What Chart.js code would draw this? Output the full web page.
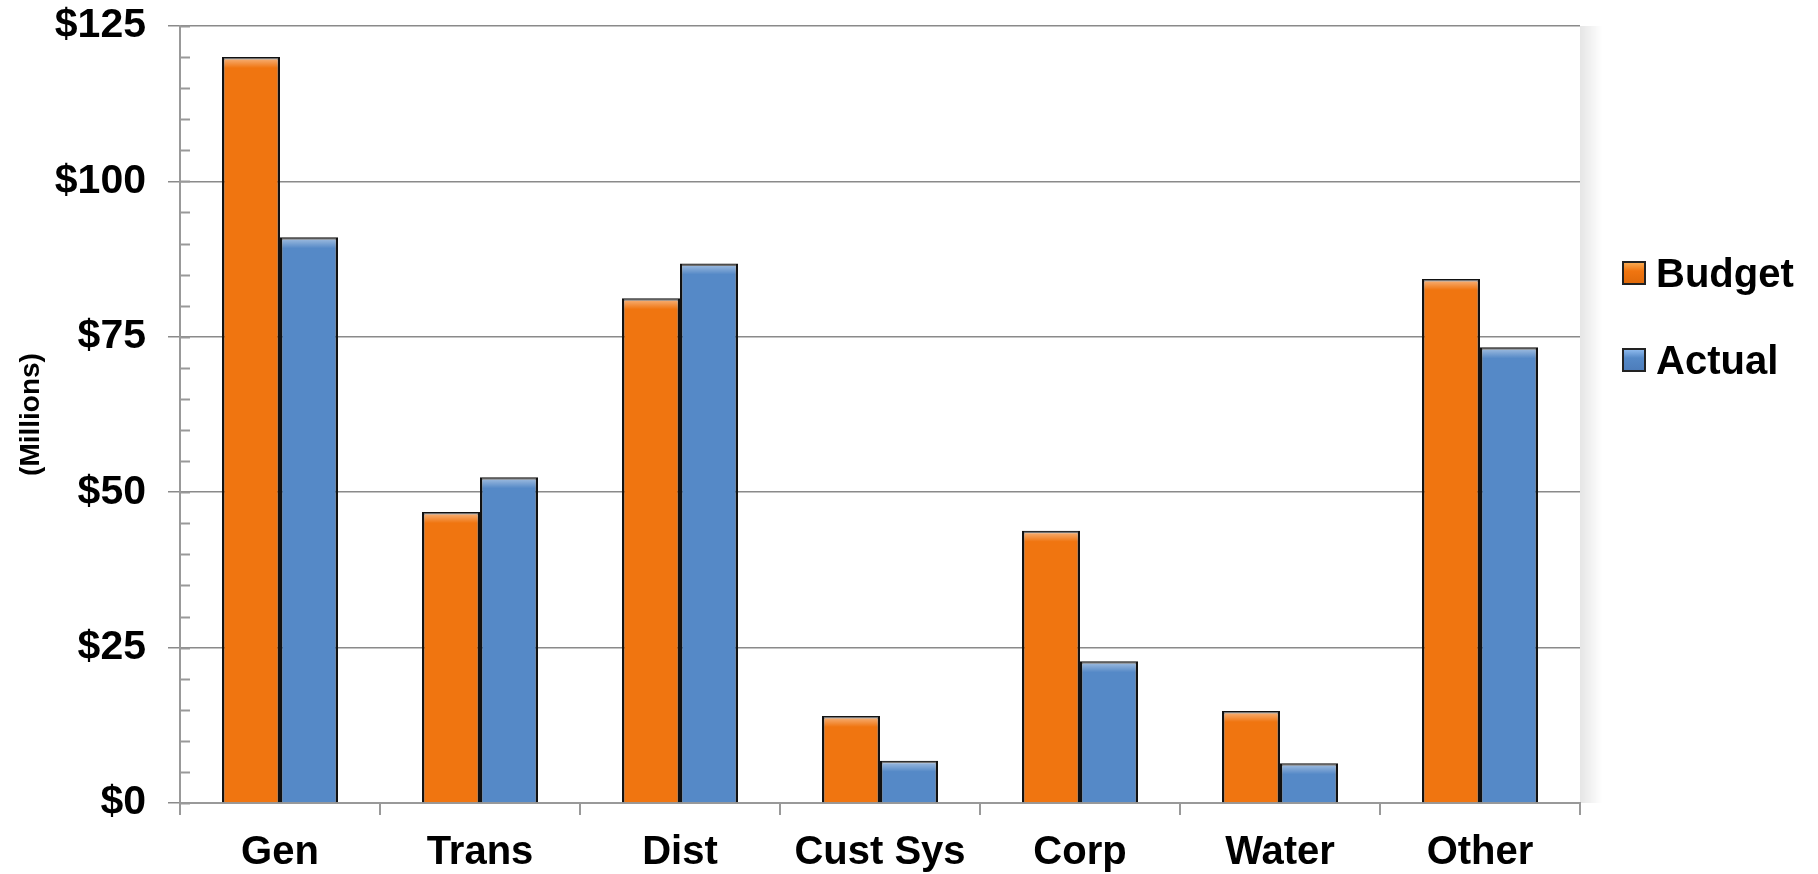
<!DOCTYPE html>
<html>
<head>
<meta charset="utf-8">
<script src="https://cdn.jsdelivr.net/npm/chart.js@4.4.0/dist/chart.umd.min.js"></script>
<style>
  html, body { margin: 0; padding: 0; background: #fff; }
  #wrap { position: relative; width: 1818px; height: 874px; }
  .leg { position: absolute; left: 1622px; font: bold 40px "Liberation Sans", Arial, sans-serif; color: #000; line-height: 46px; }
  .leg span.box { display: inline-block; width: 20px; height: 20px; border: 2px solid #222; vertical-align: middle; margin-right: 10px; position: relative; top: -3px; }
</style>
</head>
<body>
<div id="wrap">
  <canvas id="chartBudget" width="1818" height="874"></canvas>
  <div class="leg" style="top:250px"><span class="box" style="background:linear-gradient(#f8a850 0,#f07510 40%,#e06a0a 100%)"></span>Budget</div>
  <div class="leg" style="top:337px"><span class="box" style="background:linear-gradient(#8cb8ec 0,#5589c7 40%,#4d7dbb 100%)"></span>Actual</div>
</div>
<script>
const categories = ["Gen", "Trans", "Dist", "Cust Sys", "Corp", "Water", "Other"];
const budget = [120.0, 46.8, 81.2, 14.0, 43.8, 14.8, 84.3];
const actual = [91.0, 52.4, 86.8, 6.8, 22.8, 6.4, 73.3];
const yTicks = [0, 25, 50, 75, 100, 125];

const orange = "#f07510";
const blue = "#5589c7";

// little ticks every 5 on the inside of the y axis, plus the right shadow
const extras = {
  id: "extras",
  beforeDraw(chart) {
    const c = chart.ctx, a = chart.chartArea;
    const g = c.createLinearGradient(a.right, 0, a.right + 22, 0);
    g.addColorStop(0, "rgba(0,0,0,0.10)");
    g.addColorStop(1, "rgba(0,0,0,0)");
    c.save();
    c.fillStyle = g;
    c.fillRect(a.right, a.top, 22, a.bottom - a.top);
    c.restore();
  },
  afterDraw(chart) {
    const c = chart.ctx, y = chart.scales.y, a = chart.chartArea;
    c.save();
    c.strokeStyle = "#999";
    c.lineWidth = 2;
    for (let v = 0; v <= 125; v += 5) {
      const py = Math.round(y.getPixelForValue(v)) + 0.5;
      c.beginPath();
      c.moveTo(a.left, py);
      c.lineTo(a.left + 10, py);
      c.stroke();
    }
    c.restore();
  },
  afterDatasetsDraw(chart) {
    const c = chart.ctx;
    chart.data.datasets.forEach((ds, i) => {
      chart.getDatasetMeta(i).data.forEach(bar => {
        const w = bar.width, x0 = bar.x - w / 2 + 2, top = bar.y + 1;
        const h = Math.min(10, bar.base - bar.y - 2);
        if (h <= 0) return;
        const g = c.createLinearGradient(0, top, 0, top + h);
        g.addColorStop(0, "rgba(255,255,255,0.45)");
        g.addColorStop(1, "rgba(255,255,255,0)");
        c.save();
        c.fillStyle = g;
        c.fillRect(x0, top, w - 4, h);
        c.restore();
      });
    });
  }
};

const fam = "'Liberation Sans', Arial, sans-serif";

new Chart(document.getElementById("chartBudget").getContext("2d"), {
  type: "bar",
  data: {
    labels: categories,
    datasets: [
      { label: "Budget", data: budget, backgroundColor: orange, borderColor: "#111", borderWidth: 2.5, borderSkipped: "bottom" },
      { label: "Actual", data: actual, backgroundColor: blue, borderColor: "#111", borderWidth: 2.5, borderSkipped: "bottom" }
    ]
  },
  options: {
    responsive: false,
    animation: false,
    layout: { padding: { top: 26, right: 238, bottom: 0, left: 0 } },
    plugins: { legend: { display: false }, tooltip: { enabled: false } },
    datasets: { bar: { categoryPercentage: 0.58, barPercentage: 1.0 } },
    scales: {
      x: {
        grid: { offset: true, drawOnChartArea: false, color: "#999", lineWidth: 2, tickLength: 12 },
        border: { color: "#999", width: 2 },
        ticks: { color: "#000", font: { family: fam, size: 40, weight: "bold" }, padding: 14 },
        afterFit(s) { s.height = 71; }
      },
      y: {
        min: 0,
        max: 125,
        afterBuildTicks(s) { s.ticks = yTicks.map(v => ({ value: v })); },
        grid: { color: "#8a8a8a", lineWidth: 1.5, tickLength: 12 },
        border: { color: "#999", width: 2 },
        ticks: { color: "#000", font: { family: fam, size: 41, weight: "bold", lineHeight: 0.1 }, padding: 22, callback: v => "$" + v },
        title: { display: true, text: "(Millions)", color: "#000", padding: { top: 14, bottom: 0 },
          font: { family: fam, size: 28, weight: "bold" } },
        afterFit(s) { s.width = 180; }
      }
    }
  },
  plugins: [extras]
});
</script>
</body>
</html>
